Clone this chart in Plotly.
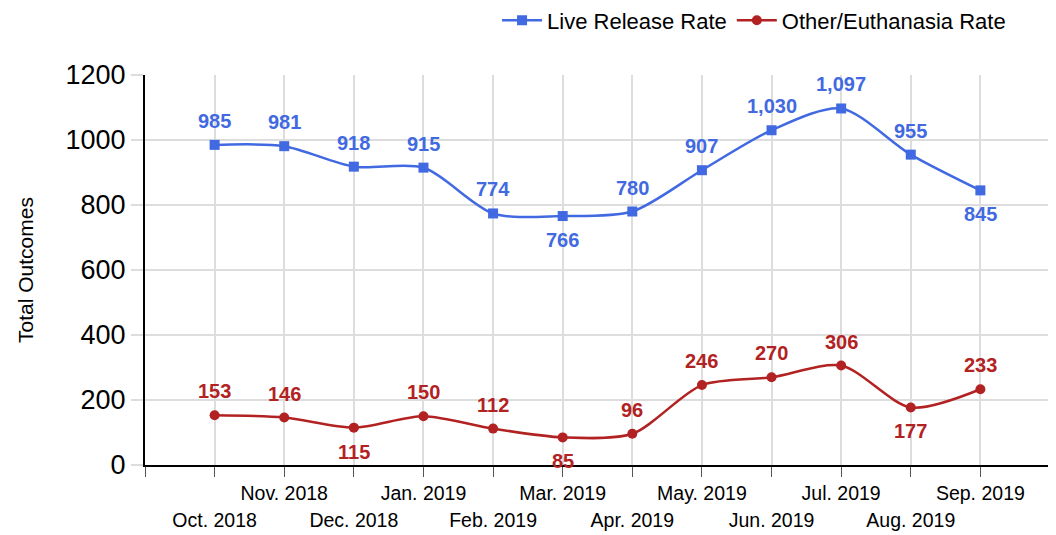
import plotly.graph_objects as go

months = ["Oct. 2018", "Nov. 2018", "Dec. 2018", "Jan. 2019", "Feb. 2019", "Mar. 2019",
          "Apr. 2019", "May. 2019", "Jun. 2019", "Jul. 2019", "Aug. 2019", "Sep. 2019"]
live_release = [985, 981, 918, 915, 774, 766, 780, 907, 1030, 1097, 955, 845]
other_euth = [153, 146, 115, 150, 112, 85, 96, 246, 270, 306, 177, 233]
# +1 = label above the point, -1 = label below
live_side = [1, 1, 1, 1, 1, -1, 1, 1, 1, 1, 1, -1]
other_side = [1, 1, -1, 1, 1, -1, 1, 1, 1, 1, -1, 1]

BLUE = "#4169E1"
RED = "#B22222"
FONT = "Liberation Sans, Arial, sans-serif"

x = list(range(len(months)))
tickvals = [-1] + x + [12]
upper_text = [""] + [m if i % 2 == 1 else "" for i, m in enumerate(months)] + [""]
lower_vals = [i for i in x if i % 2 == 0]
lower_text = [months[i] for i in lower_vals]

fig = go.Figure()
fig.add_trace(go.Scatter(
    x=x, y=live_release, name="Live Release Rate", mode="lines+markers",
    line=dict(color=BLUE, width=2.5, shape="spline", smoothing=0.8),
    marker=dict(symbol="square", size=10, color=BLUE),
    cliponaxis=False,
))
fig.add_trace(go.Scatter(
    x=x, y=other_euth, name="Other/Euthanasia Rate", mode="lines+markers",
    line=dict(color=RED, width=2.5, shape="spline", smoothing=0.8),
    marker=dict(symbol="circle", size=10, color=RED),
    cliponaxis=False,
))
# invisible helper trace so the second (lower-row label) axis is drawn
fig.add_trace(go.Scatter(
    x=lower_vals, y=[None] * len(lower_vals), xaxis="x2", yaxis="y",
    mode="markers", showlegend=False, hoverinfo="skip",
))

for vals, sides, color in ((live_release, live_side, BLUE), (other_euth, other_side, RED)):
    for xi, v, s in zip(x, vals, sides):
        fig.add_annotation(
            x=xi, y=v, xref="x", yref="y", text=f"{v:,}", showarrow=False,
            yanchor="middle", xanchor="center", yshift=24 * s,
            font=dict(family=FONT, size=20, color=color, weight="bold"),
        )

fig.update_layout(
    width=1048, height=527,
    margin=dict(l=137, r=6, t=67, b=70, autoexpand=False),
    paper_bgcolor="white", plot_bgcolor="white",
    font=dict(family=FONT, color="black"),
    showlegend=True,
    legend=dict(orientation="h", x=0.389, xanchor="left", y=1.14, yanchor="middle",
                font=dict(family=FONT, size=22, color="black"),
                itemwidth=40, traceorder="normal"),
    xaxis=dict(
        range=[-1, 12], tickmode="array", tickvals=tickvals, ticktext=upper_text,
        tickangle=0, automargin=False,
        showgrid=True, gridcolor="#dddddd", gridwidth=2,
        ticks="outside", ticklen=10, tickcolor="#555555", tickwidth=1,
        showline=True, linecolor="black", linewidth=2,
        tickfont=dict(family=FONT, size=19.5, color="black"),
        zeroline=False, fixedrange=True,
    ),
    xaxis2=dict(
        range=[-1, 12], overlaying="x", anchor="y", side="bottom",
        tickmode="array", tickvals=lower_vals, ticktext=lower_text,
        tickangle=0, automargin=False, showgrid=False, showline=False, zeroline=False,
        ticks="outside", ticklen=10, tickcolor="rgba(0,0,0,0)",
        ticklabelstandoff=28,
        tickfont=dict(family=FONT, size=19.5, color="black"), fixedrange=True,
    ),
    yaxis=dict(
        range=[0, 1200], tickmode="array", tickvals=[0, 200, 400, 600, 800, 1000, 1200],
        automargin=False,
        showgrid=True, gridcolor="#dddddd", gridwidth=2,
        ticks="outside", ticklen=12, tickcolor="#dddddd", tickwidth=2,
        showline=True, linecolor="black", linewidth=2,
        tickfont=dict(family=FONT, size=27, color="black"),
        title=dict(text="Total Outcomes", font=dict(family=FONT, size=21, color="black"), standoff=26),
        zeroline=False, fixedrange=True,
    ),
)

fig.write_html("out.html")
